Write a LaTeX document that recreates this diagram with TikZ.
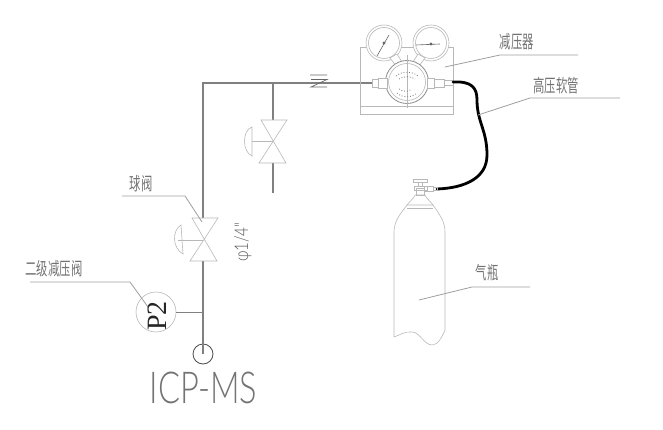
\documentclass[tikz,border=0pt]{standalone}
\usepackage{fontspec}
\setmainfont{Liberation Sans}
\newfontfamily\cjk{Noto Sans CJK SC}
\newfontfamily\serifb{Liberation Serif}
\newfontfamily\thinf{Lato Light}
\definecolor{pipe}{gray}{0.5}
\definecolor{thinl}{gray}{0.72}
\definecolor{leadc}{gray}{0.62}
\tikzset{
  x=1pt,y=-1pt,
  pipeline/.style={draw=pipe,line width=1.2pt},
  thin line/.style={draw=thinl,line width=0.6pt},
  leader/.style={draw=leadc,line width=0.8pt},
  cnlabel/.style={font=\cjk\fontsize{18}{18}\selectfont,text=black!55,inner sep=0pt,xscale=0.63},
  hose/.style={draw=black,line width=2.8pt,line cap=round},
  dots/.style={draw=black!55,line width=0.8pt,dotted},
}
\begin{document}
\begin{tikzpicture}
\useasboundingbox (0,0) rectangle (663,430);
% Named points
\coordinate (corner) at (203,83);
\coordinate (regL) at (372,83);
\coordinate (branch) at (273,83);
\coordinate (v1) at (203,240);
\coordinate (v1top) at (203,218);
\coordinate (v1bot) at (203,261);
\coordinate (v2) at (273,141);
\coordinate (v2top) at (273,120);
\coordinate (v2bot) at (273,163);
\coordinate (v2end) at (273,193);
\coordinate (tee) at (203,312);
\node[circle,draw=thinl,line width=0.6pt,minimum size=40pt,inner sep=0pt] (p2) at (156,312) {};
\node[circle,draw=black!70,line width=0.8pt,minimum size=20pt,inner sep=0pt] (port) at (203,354) {};
% main pipe
\draw[pipeline] (port.center) -- (v1bot);
\draw[pipeline] (v1top) -- (corner) -- (regL);
\draw[thin line,draw=gray] (p2.east) -- (tee);
\draw[pipeline] (branch) -- (v2top);
\draw[pipeline] (v2bot) -- (v2end);
% break symbol
\draw[draw=black!60,line width=0.7pt] (310,75) -- (327,75)
  (311,79.5) -- (327,79.5) -- (311,87) -- (327,87);
% valve 1
\draw[thin line] (192,218) -- (218,218) -- (190,261) -- (217,261) -- cycle;
\draw[thin line] (v1) -- (178,240);
\draw[thin line] (181,225) .. controls (172,230) and (172,248) .. (183,254) -- cycle;
% valve 2
\draw[thin line] (261,120) -- (287,120) -- (259,163) -- (286,163) -- cycle;
\draw[thin line] (v2) -- (252,141);
\draw[thin line] (252,127) .. controls (242,130) and (242,152) .. (252,156) -- cycle;
% regulator
\draw[thin line] (360,47) rectangle (453,114);
\draw[thin line] (360,106) -- (453,106);
\foreach \c in {384,431}{
  \draw[thin line,fill=white] (\c,43) circle (18);
  \draw[thin line] (\c,43) circle (15.5);
}
\draw[thin line,fill=white] (390,58) -- (396,66) -- (402,62) -- (397,54) -- cycle;
\draw[thin line,fill=white] (425,58) -- (419,66) -- (413,62) -- (418,54) -- cycle;
\draw[draw=black!45,line width=0.8pt,fill=white] (407,82) circle (21.5);
\draw[thin line] (407,82) circle (18.5);
\draw[thin line] (407,55) -- (407,108);
\draw[draw=black!60,line width=0.6pt] (377,56) -- (389,35);
\fill[black!60] (384,43) circle (1.6);
\draw[draw=black!60,line width=0.6pt] (416,45) -- (440,44);
\fill[black!60] (431,44) circle (1.6);
\draw[dots] (396,76) .. controls (402,71) and (412,71) .. (418,76);
\draw[dots] (399,79) .. controls (403,76) and (411,76) .. (415,79);
\draw[dots] (399,89) .. controls (403,92) and (408,92) .. (412,89);
\draw[dots] (397,93) .. controls (402,98) and (412,98) .. (417,93);
\draw[thin line,fill=white] (372,79) rectangle (378,87);
\draw[thin line,fill=white] (378,78) rectangle (387,88);
\draw[thin line,fill=white] (427,78) rectangle (434,88);
\draw[thin line,fill=white] (434,79) rectangle (444,87);
\draw[thin line,fill=white] (444,80) rectangle (453,85);
% hose
\draw[hose] (453,82) .. controls (472,81) and (477,88) .. (477,100)
  .. controls (477,122) and (487,130) .. (487,155)
  .. controls (487,178) and (465,188) .. (437,189);
% cylinder
\draw[thin line] (394,337) -- (394,232) .. controls (394,220) and (402,212) .. (407,205)
  -- (433,205) .. controls (440,215) and (445,222) .. (445,232) -- (445,330)
  .. controls (442,337) and (438,345) .. (432,345)
  .. controls (424,345) and (420,332) .. (412,332)
  .. controls (405,331) and (400,335) .. (394,337);
\draw[thin line] (407,208) -- (433,208);
\draw[thin line] (407,205) .. controls (411,200) and (414,198) .. (415,195)
  -- (425,195) .. controls (426,198) and (429,200) .. (433,205);
\draw[thin line] (416,188) rectangle (424,195);
\draw[thin line] (414,186) rectangle (427,190);
\draw[thin line] (418,181) rectangle (422,186);
\draw[thin line,fill=white] (413,179) rectangle (427,182);
\draw[thin line] (424,186) rectangle (433,191);
\draw[thin line] (433,187) rectangle (437,190);
% leaders
\draw[leader] (445,67) -- (500,55) -- (578,55);
\draw[leader] (478,115) -- (530,98) -- (620,98);
\draw[leader] (419,300) -- (472,287) -- (530,287);
\draw[leader] (122,196) -- (185,196) -- (202,222);
\draw[leader] (30,282) -- (130,282) -- (148,307);
% labels
\node[cnlabel] (t1) at (517,42) {减压器};
\node[cnlabel] (t2) at (556,86) {高压软管};
\node[cnlabel] (t3) at (487,273) {气瓶};
\node[cnlabel] (t4) at (141,184) {球阀};
\node[cnlabel] (t5) at (54,269) {二级减压阀};
\node[font=\serifb\fontsize{28}{28}\selectfont,text=black!85,rotate=90,inner sep=0pt] (t6) at (157,316) {P2};
\node[font=\thinf\fontsize{19}{19}\selectfont,text=black!65,rotate=90,inner sep=0pt,xscale=0.8] (t7) at (243,242) {φ1/4"};
\node[font=\thinf\fontsize{44}{44}\selectfont,text=black!55,inner sep=0pt,xscale=0.74] (t8) at (203.5,388) {ICP-MS};
\end{tikzpicture}
\end{document}
